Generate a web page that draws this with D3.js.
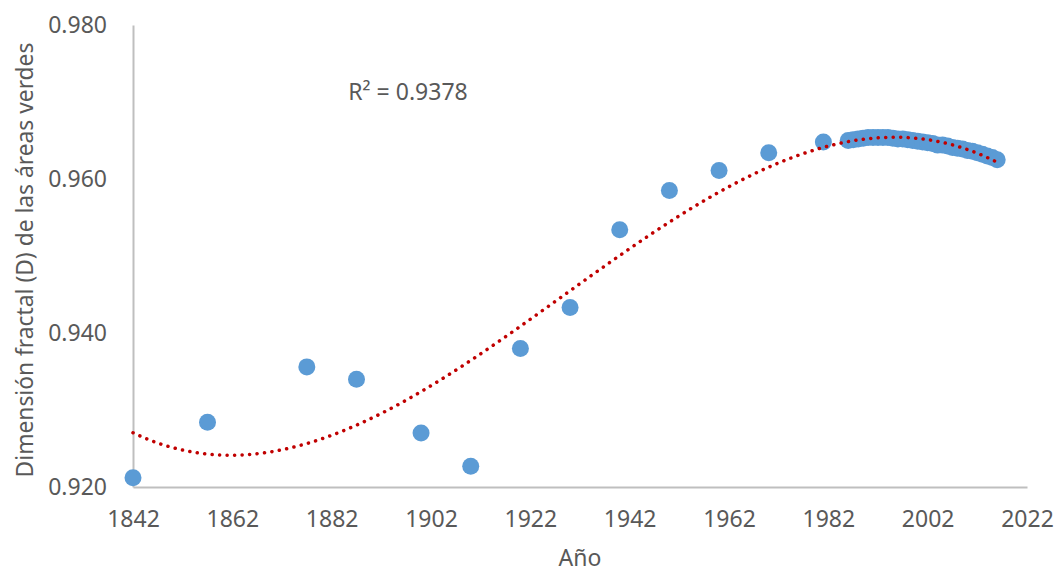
<!DOCTYPE html>
<html lang="es">
<head>
    <meta charset="UTF-8">
    <title>Dimensión fractal</title>
    <script src="https://d3js.org/d3.v7.min.js"></script>
    <style>
        body{margin: 0; background: #fff;}
        text{font-family: 'Noto Sans', 'Open Sans', sans-serif; fill: #595959;}
    </style>
</head>
<body>
    <div id="plot"></div>

    <script>
        function translate(x, y){
            return 'translate(' + x + ', ' + y + ')';
        }

        // datos
        let years = [1842, 1857, 1877, 1887, 1900, 1910, 1920, 1930, 1940, 1950, 1960, 1970, 1981,
                     1986, 1987, 1988, 1989, 1990, 1991, 1992, 1993, 1994, 1995, 1996, 1997, 1998,
                     1999, 2000, 2001, 2002, 2003, 2004, 2005, 2006, 2007, 2008, 2009, 2010, 2011,
                     2012, 2013, 2014, 2015, 2016];
        let fractalD = [0.9212, 0.9284, 0.9356, 0.9340, 0.9270, 0.9227, 0.9380, 0.9433, 0.9534, 0.9585, 0.9611, 0.9634, 0.9648,
                        0.9650, 0.9651, 0.9652, 0.9653, 0.9654, 0.9654, 0.9654, 0.9654, 0.9654, 0.9653, 0.9652, 0.9652, 0.9651,
                        0.9650, 0.9649, 0.9648, 0.9647, 0.9646, 0.9644, 0.9644, 0.9643, 0.9641, 0.9640, 0.9639, 0.9637, 0.9636,
                        0.9634, 0.9632, 0.9630, 0.9628, 0.9625];
        let xTicks = [1842, 1862, 1882, 1902, 1922, 1942, 1962, 1982, 2002, 2022];
        let yTicks = [0.920, 0.940, 0.960, 0.980];
        let r2Label = 'R² = 0.9378';

        let data = years.map((y, i) => ({year: y, d: fractalD[i]}));

        let svgWidth = 1055;
        let svgHeight = 573;
        let margin = {top: 25, right: 28, bottom: 86, left: 133};
        let width = svgWidth - margin.left - margin.right;
        let height = svgHeight - margin.top - margin.bottom;

        let svg = d3.select('#plot')
                    .append('svg')
                        .attr('width', svgWidth)
                        .attr('height', svgHeight)
                        .style('display', 'block')
                        .append('g')
                            .attr('transform', translate(margin.left, margin.top));

        let x = d3.scaleLinear().domain([1842, 2022]).range([0, width]);
        let y = d3.scaleLinear().domain([0.920, 0.980]).range([height, 0]);

        // ajuste polinomico de orden 3 (minimos cuadrados)
        function polyFit(xs, ys, order){
            let n = order + 1;
            let A = [];
            for (let i = 0; i < n; i++){
                A.push(new Array(n + 1).fill(0));
            }
            xs.forEach(function(xv, k){
                for (let i = 0; i < n; i++){
                    for (let j = 0; j < n; j++){
                        A[i][j] += Math.pow(xv, i + j);
                    }
                    A[i][n] += ys[k] * Math.pow(xv, i);
                }
            });
            for (let c = 0; c < n; c++){
                let p = c;
                for (let r = c + 1; r < n; r++) if (Math.abs(A[r][c]) > Math.abs(A[p][c])) p = r;
                [A[c], A[p]] = [A[p], A[c]];
                for (let r = 0; r < n; r++){
                    if (r === c) continue;
                    let f = A[r][c] / A[c][c];
                    for (let k = c; k <= n; k++) A[r][k] -= f * A[c][k];
                }
            }
            return A.map((row, i) => row[n] / row[i]);
        }
        let ts = years.map(v => (v - 1930) / 100);
        let coef = polyFit(ts, fractalD, 3);
        let trend = d3.range(1842, 2016.01, 0.5).map(function(v){
            let t = (v - 1930) / 100;
            return {year: v, d: coef.reduce((s, c, i) => s + c * Math.pow(t, i), 0)};
        });

        // ejes
        let xAxis = d3.axisBottom(x).tickValues(xTicks).tickSize(0).tickPadding(26).tickFormat(d3.format('d'));
        let yAxis = d3.axisLeft(y).tickValues(yTicks).tickSize(0).tickPadding(26).tickFormat(d3.format('.3f'));

        let gx = svg.append('g').attr('transform', translate(0, height)).call(xAxis);
        let gy = svg.append('g').call(yAxis);
        [gx, gy].forEach(function(g){
            g.select('.domain').attr('stroke', '#bfbfbf').attr('stroke-width', 2);
            g.selectAll('text').style('font-size', '23px').attr('fill', '#595959');
        });
        gx.selectAll('text').attr('dy', '0.6em');

        svg.selectAll('circle')
            .data(data)
            .enter()
            .append('circle')
            .attr('r', 8.5)
            .attr('cx', d => x(d.year))
            .attr('cy', d => y(d.d))
            .attr('fill', '#5b9bd5');

        svg.append('path')
            .datum(trend)
            .attr('fill', 'none')
            .attr('stroke', '#c00000')
            .attr('stroke-width', 3.5)
            .attr('stroke-linecap', 'round')
            .attr('stroke-dasharray', '0.1,7.4')
            .attr('d', d3.line().x(d => x(d.year)).y(d => y(d.d)));

        svg.append('text')
            .attr('x', 275)
            .attr('y', 75)
            .attr('text-anchor', 'middle')
            .style('font-size', '23px')
            .text(r2Label);

        svg.append('text')
            .attr('x', width / 2)
            .attr('y', height + 79)
            .attr('text-anchor', 'middle')
            .style('font-size', '23px')
            .text('Año');

        svg.append('text')
            .attr('transform', translate(-100, height / 2 + 4) + ' rotate(-90)')
            .attr('text-anchor', 'middle')
            .style('font-size', '22.8px')
            .text('Dimensión fractal (D) de las áreas verdes');
    </script>
</body>
</html>
